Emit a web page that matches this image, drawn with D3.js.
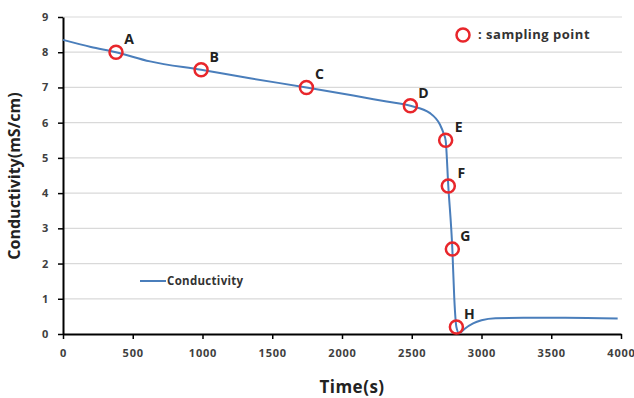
<!DOCTYPE html>
<html><head><meta charset="utf-8">
<script src="https://cdn.jsdelivr.net/npm/d3@7"></script>
<style>body{margin:0;background:#fff}svg{display:block}text{font-family:"Open Sans",sans-serif}</style>
</head><body><svg id="c" width="634" height="398"></svg>
<script>
const timeS = [0, 200, 380, 624, 990, 1340, 1745, 2081, 2320, 2490, 2631, 2703, 2730, 2743, 2762, 2791, 2805, 2820, 2840, 2880, 2940, 3000, 3100, 3300, 3600, 3976];
const conductivity = [8.35, 8.15, 8.0, 7.74, 7.5, 7.26, 7.0, 6.77, 6.60, 6.48, 6.27, 5.94, 5.68, 5.5, 4.2, 2.41, 1.0, 0.2, 0.02, 0.15, 0.3, 0.39, 0.45, 0.46, 0.46, 0.44];
const sampleLabels = ["A","B","C","D","E","F","G","H"];
const sampleTime = [380, 990, 1745, 2490, 2743, 2762, 2791, 2820];
const sampleCond = [8.0, 7.5, 7.0, 6.48, 5.5, 4.2, 2.41, 0.2];
const xTicks = [0,500,1000,1500,2000,2500,3000,3500,4000];
const yTicks = [0,1,2,3,4,5,6,7,8,9];

const svg = d3.select("#c");
const L=63, R=621, T=17, B=334;
const x = d3.scaleLinear().domain([0,4000]).range([L,R]);
const y = d3.scaleLinear().domain([0,9]).range([B,T]);

// grid
svg.append("g").selectAll("line").data(yTicks.filter(d=>d>0)).join("line")
  .attr("x1",L).attr("x2",R+1).attr("y1",d=>y(d)).attr("y2",d=>y(d))
  .attr("stroke","#d9d9d9").attr("stroke-width",1.2);

// axes
const xa = svg.append("g").attr("transform",`translate(0,${B})`)
  .call(d3.axisBottom(x).tickValues(xTicks).tickFormat(d3.format("d")).tickSize(5).tickSizeOuter(0).tickPadding(10));
const ya = svg.append("g").attr("transform",`translate(${L},0)`)
  .call(d3.axisLeft(y).tickValues(yTicks).tickFormat(d3.format("d")).tickSize(5).tickSizeOuter(0).tickPadding(9));
[xa,ya].forEach(a=>{
  a.select(".domain").attr("stroke","#000").attr("stroke-width",2);
  a.selectAll(".tick line").attr("stroke","#000").attr("stroke-width",1.5);
  a.selectAll(".tick text").attr("fill","#404040").style("font-size","11px").style("font-weight","bold").style("letter-spacing","0.8px");
});

// line
svg.append("path").datum(timeS.map((t,i)=>[t,conductivity[i]]))
  .attr("fill","none").attr("stroke","#4a7ebb").attr("stroke-width",2)
  .attr("d", d3.line().x(d=>x(d[0])).y(d=>y(d[1])).curve(d3.curveMonotoneX));

// sampling points
svg.append("g").selectAll("circle").data(sampleTime).join("circle")
  .attr("cx",d=>x(d)).attr("cy",(d,i)=>y(sampleCond[i])).attr("r",6.5)
  .attr("fill","none").attr("stroke","#e8262b").attr("stroke-width",2.5);
svg.append("g").selectAll("text").data(sampleLabels).join("text")
  .attr("x",(d,i)=>x(sampleTime[i])+13).attr("y",(d,i)=>y(sampleCond[i])-8)
  .attr("text-anchor","middle").style("font-size","14px").style("font-weight","bold").attr("fill","#222")
  .text(d=>d);

// legends
svg.append("circle").attr("cx",463).attr("cy",35).attr("r",6.5).attr("fill","none").attr("stroke","#e8262b").attr("stroke-width",2.5);
svg.append("text").attr("x",478).attr("y",39).style("font-size","13px").style("font-weight","bold").style("letter-spacing","0.5px").attr("fill","#333").text(": sampling point");
svg.append("line").attr("x1",140).attr("x2",166).attr("y1",281).attr("y2",281).attr("stroke","#4a7ebb").attr("stroke-width",2);
svg.append("text").attr("x",167).attr("y",285).style("font-size","11.5px").style("font-weight","bold").style("letter-spacing","0.3px").attr("fill","#333").text("Conductivity");

// axis titles
svg.append("text").attr("x",352).attr("y",393).attr("text-anchor","middle").style("font-size","17px").style("font-weight","bold").style("letter-spacing","0.5px").attr("fill","#222").text("Time(s)");
svg.append("text").attr("transform","translate(20,176) rotate(-90)").attr("text-anchor","middle").style("font-size","16px").style("font-weight","bold").attr("fill","#222").text("Conductivity(mS/cm)");
</script></body></html>
